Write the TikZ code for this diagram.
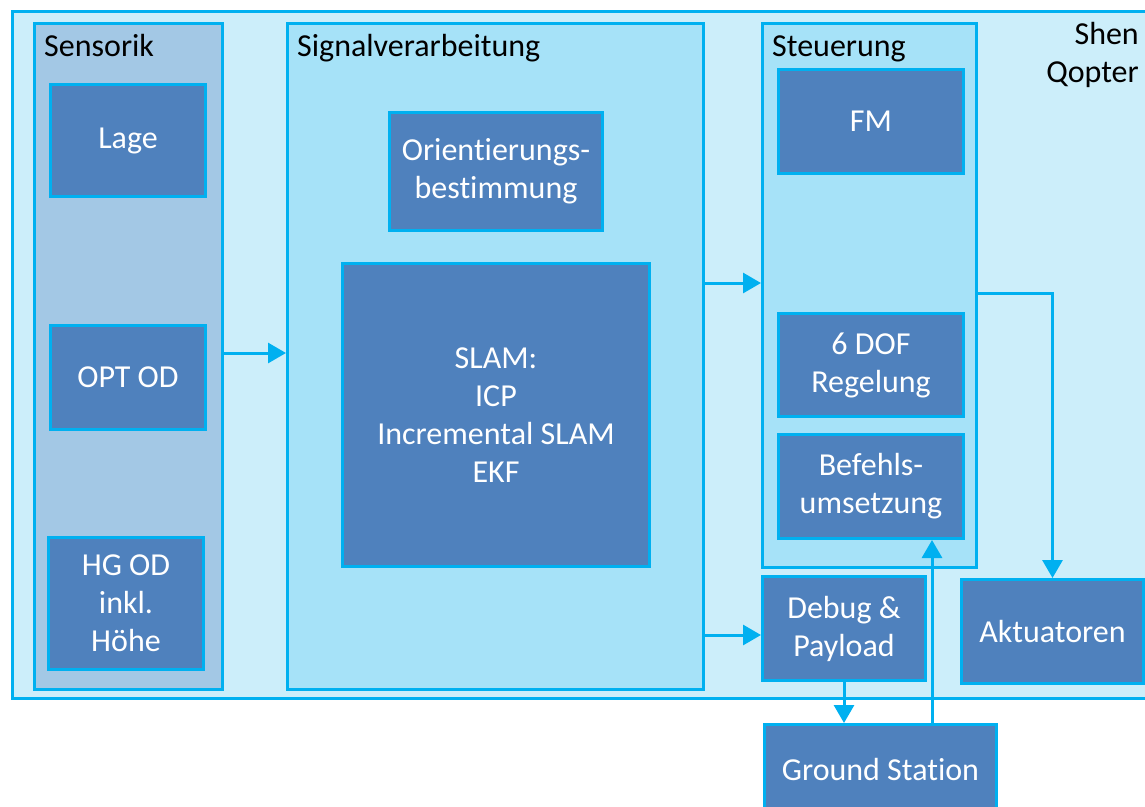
\documentclass[tikz,border=0pt]{standalone}
\usepackage{fontspec}
\setmainfont{Carlito}[Ligatures=NoCommon]
\usetikzlibrary{arrows.meta}
\definecolor{edge}{HTML}{00B0F0}
\definecolor{outerfill}{HTML}{CCEEFA}
\definecolor{groupfill}{HTML}{A6E2F8}
\definecolor{sensfill}{HTML}{A3C8E5}
\definecolor{unitfill}{HTML}{4F81BD}
\tikzset{
  panel/.style={draw=edge, line width=3pt, anchor=north west, inner sep=0pt},
  unit/.style={panel, fill=unitfill, text=white, align=center,
    font=\fontsize{32}{38}\selectfont},
  title/.style={anchor=base west, inner sep=0pt, text=black,
    font=\fontsize{32}{38}\selectfont},
  arr/.style={draw=edge, line width=3pt,
    -{Triangle[length=18pt,width=20pt]}},
}
\begin{document}
\begin{tikzpicture}[x=1pt,y=-1pt]
\useasboundingbox (0,0) rectangle (1145,806);

% system frame
\node[panel, fill=outerfill, minimum width=1160pt, minimum height=687pt] (shen) at (11,10) {};
\node[anchor=base east, inner sep=0pt, align=right, font=\fontsize{32}{38}\selectfont] (shentitle) at (1139,82) {Shen\\Qopter};

% groups
\node[panel, fill=sensfill, minimum width=188pt, minimum height=666pt] (sens) at (33,22) {};
\node[panel, fill=groupfill, minimum width=416pt, minimum height=666pt] (sig) at (286,22) {};
\node[panel, fill=groupfill, minimum width=214pt, minimum height=544pt] (steu) at (761,22) {};
\node[title] (senstitle) at (44,56) {Sensorik};
\node[title] (sigtitle) at (297,56) {Signalverarbeitung};
\node[title] (steutitle) at (772,56) {Steuerung};

% sensors
\node[unit, minimum width=155pt, minimum height=112pt] (lage) at (49,83) {Lage};
\node[unit, minimum width=155pt, minimum height=104pt] (opt) at (49,324) {OPT OD};
\node[unit, minimum width=155pt, minimum height=132pt] (hg) at (47,536) {HG OD\\inkl.\\Höhe};

% signal processing
\node[unit, minimum width=213pt, minimum height=118pt] (orient) at (388,111) {Orientierungs-\\bestimmung};
\node[unit, minimum width=307pt, minimum height=303pt] (slam) at (341,262) {SLAM:\\ICP\\Incremental SLAM\\EKF};

% control
\node[unit, minimum width=185pt, minimum height=104pt] (fm) at (777,68) {FM};
\node[unit, minimum width=185pt, minimum height=103pt] (dof) at (777,312) {6 DOF\\Regelung};
\node[unit, minimum width=185pt, minimum height=104pt] (bef) at (777,433) {Befehls-\\umsetzung};

% outputs
\node[unit, minimum width=163pt, minimum height=104pt] (debug) at (761,575) {Debug \&\\Payload};
\node[unit, minimum width=182pt, minimum height=104pt] (akt) at (960,578) {Aktuatoren};
\node[unit, minimum width=232pt, minimum height=90pt] (gs) at (763,723) {Ground Station};

% data flow
\draw[arr] (sens.east |- 0,353) -- (sig.west |- 0,353);
\draw[arr] (sig.east |- 0,283) -- (steu.west |- 0,283);
\draw[arr] (sig.east |- 0,635) -- (debug.west |- 0,635);
\draw[arr] (steu.east |- 0,293) -| (akt.north);
\draw[arr] (debug.south) -- (gs.north -| debug.south);
\draw[arr] (gs.north -| 932,0) -- (bef.south -| 932,0);
\end{tikzpicture}
\end{document}
